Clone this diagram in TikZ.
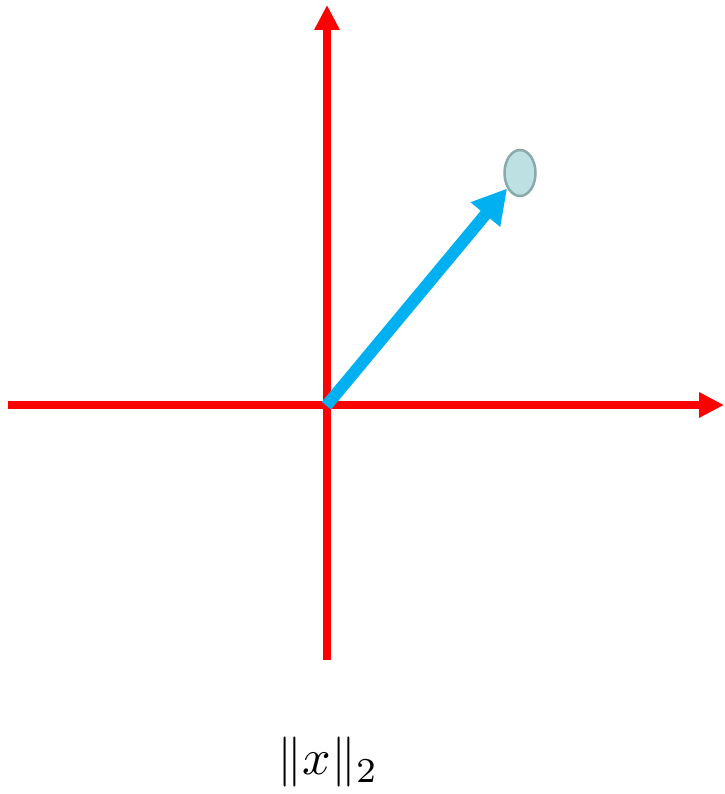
\documentclass[tikz,border=0pt]{standalone}
\usepackage{amsmath,amssymb}
\usepackage{xcolor}
\usetikzlibrary{arrows.meta,positioning,shapes.geometric}
\definecolor{axisRed}{HTML}{FF0000}
\definecolor{vecBlue}{HTML}{00B0F0}
\definecolor{pointFill}{HTML}{BDE0E3}
\definecolor{pointBd}{HTML}{8AA9AB}
\tikzset{
  axis/.style={draw=axisRed, line width=7.5pt, -{Triangle[length=25pt,width=24pt]}},
  vec/.style={draw=vecBlue, line width=12pt, -{Triangle[length=34pt,width=36pt]}, shorten <=-1pt},
  pointmark/.style={ellipse, fill=pointFill, draw=pointBd, line width=2.5pt,
    minimum width=31pt, minimum height=46pt, inner sep=0pt}
}
\begin{document}
\begin{tikzpicture}[x=1pt, y=1pt]
  \useasboundingbox (0,0) rectangle (724,794);
  % --- axes
  \coordinate (O)  at (327,389);
  \coordinate (xl) at (8,389);
  \coordinate (xr) at (724,389);
  \coordinate (yb) at (327,134);
  \coordinate (yt) at (327,789);
  \draw[axis] (xl) -- (xr);
  \draw[axis] (yb) -- (yt);

  % --- point and vector
  \node[pointmark] (pt) at (520,621) {};
  \draw[vec] (O) -- (pt);

  % --- label
  \node (norm) at (328,32) {\scalebox{5}{$\|x\|_2$}};
\end{tikzpicture}
\end{document}
